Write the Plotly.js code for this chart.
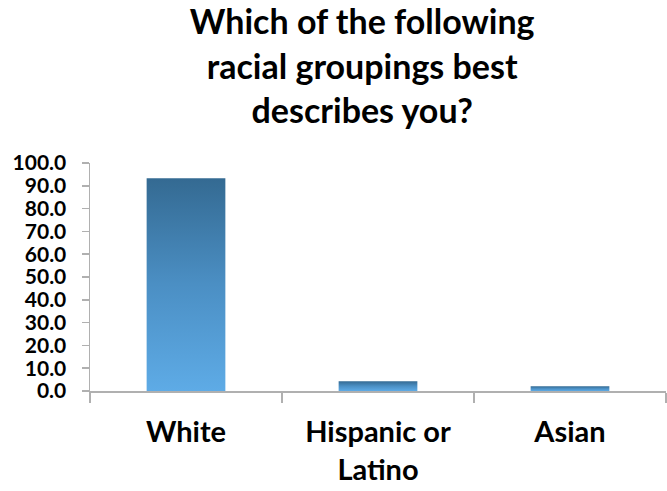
<!DOCTYPE html>
<html><head><meta charset="utf-8">
<script src="https://cdn.plot.ly/plotly-3.0.1.min.js"></script>
<style>html,body{margin:0;padding:0;background:#fff}</style>
</head><body>
<div id="chart" style="width:667px;height:491px"></div>
<script>
const categories = ["White", "Hispanic or<br>Latino", "Asian"];
const percentages = [93.3, 4.3, 2.1];
const yTickValues = [0, 10, 20, 30, 40, 50, 60, 70, 80, 90, 100];
const yTickLabels = ["0.0","10.0","20.0","30.0","40.0","50.0","60.0","70.0","80.0","90.0","100.0"];
const chartTitle = "Which of the following<br>racial groupings best<br>describes you?";

const font = "Lato, 'Open Sans', 'DejaVu Sans', sans-serif";
const data = [{
  type: "bar",
  x: categories,
  y: percentages,
  marker: {color: "#4a8cc4", line: {width: 0}},
  hoverinfo: "x+y"
}];
const layout = {
  width: 667, height: 491,
  margin: {l: 90, r: 1, t: 163, b: 100},
  paper_bgcolor: "#fff", plot_bgcolor: "#fff",
  bargap: 0.59,
  showlegend: false,
  title: {
    text: chartTitle,
    font: {family: font, size: 34, color: "#000", weight: "bold"},
    x: 0.543, xref: "container", xanchor: "center",
    y: 0.93, yref: "container", yanchor: "middle"
  },
  xaxis: {
    type: "category",
    tickson: "boundaries",
    ticks: "outside", ticklen: 10, tickcolor: "#b0b0b0", tickwidth: 1.5,
    showline: true, linecolor: "#b0b0b0", linewidth: 1.5,
    showgrid: false, zeroline: false,
    tickfont: {family: font, size: 29, color: "#000", weight: "bold"},
    ticklabelstandoff: 15
  },
  yaxis: {
    range: [0, 100],
    tickvals: yTickValues, ticktext: yTickLabels,
    ticks: "outside", ticklen: 7, tickcolor: "#b0b0b0", tickwidth: 1.5,
    showline: true, linecolor: "#b0b0b0", linewidth: 1.5,
    showgrid: false, zeroline: false,
    tickfont: {family: font, size: 21, color: "#000", weight: "bold"},
    ticklabelstandoff: 11
  }
};
Plotly.newPlot("chart", data, layout, {displayModeBar: false, staticPlot: true}).then(function(gd){
  const svg = gd.querySelector("svg.main-svg");
  const ns = "http://www.w3.org/2000/svg";
  let defs = svg.querySelector("defs");
  if (!defs) { defs = document.createElementNS(ns, "defs"); svg.insertBefore(defs, svg.firstChild); }
  const grad = document.createElementNS(ns, "linearGradient");
  grad.setAttribute("id", "barGrad");
  grad.setAttribute("x1", "0"); grad.setAttribute("y1", "0");
  grad.setAttribute("x2", "0"); grad.setAttribute("y2", "1");
  [["0", "#346a92"], ["0.5", "#4b8fc4"], ["1", "#5eabe6"]].forEach(function(s){
    const st = document.createElementNS(ns, "stop");
    st.setAttribute("offset", s[0]); st.setAttribute("stop-color", s[1]);
    grad.appendChild(st);
  });
  defs.appendChild(grad);
  gd.querySelectorAll(".bars .point path").forEach(function(p){
    p.style.fill = "url(#barGrad)";
  });
});
</script>
</body></html>
